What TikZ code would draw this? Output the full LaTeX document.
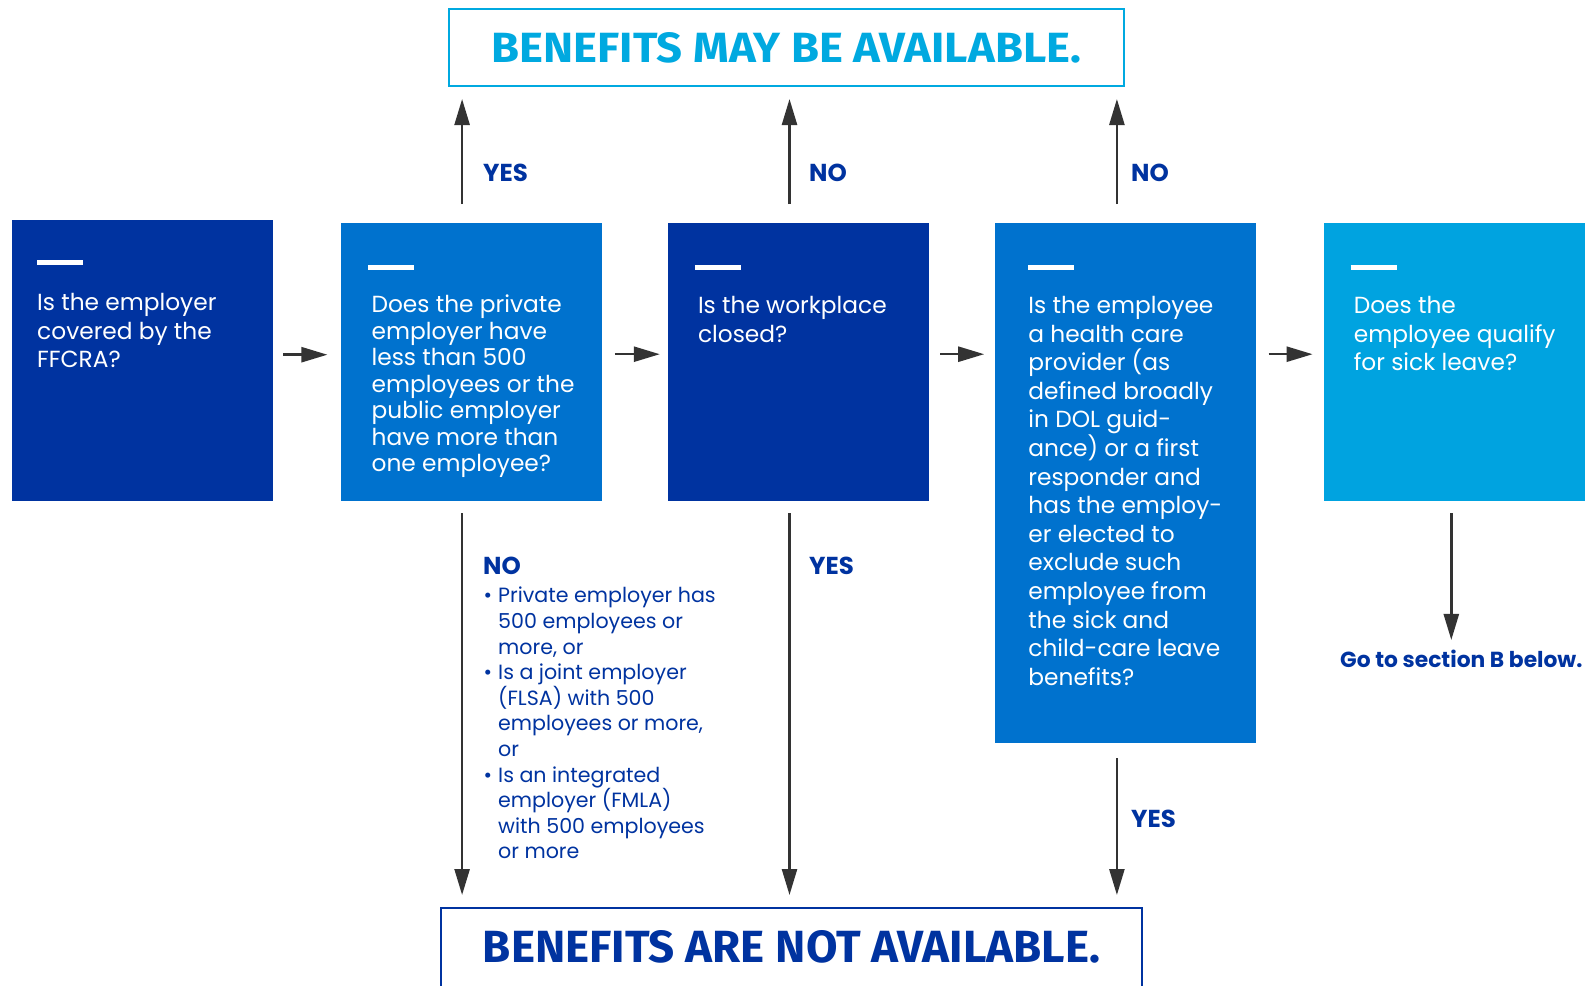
\documentclass[tikz,border=0pt]{standalone}
\usepackage{fontspec}
\usepackage{graphicx}
\setmainfont{Poppins}
\newfontfamily\headfont{Fira Sans}
\usetikzlibrary{arrows.meta,positioning}
\definecolor{navy}{HTML}{0033A0}
\definecolor{midblue}{HTML}{0072CE}
\definecolor{skyblue}{HTML}{00A3E0}
\definecolor{cyanline}{HTML}{00A9E0}
\definecolor{arrowgray}{HTML}{333333}

\begin{document}
\begin{tikzpicture}[x=1pt,y=-1pt]

  \tikzstyle{question}=[rectangle,minimum width=261pt,minimum height=278pt,
    inner sep=0pt,anchor=north west]
  \tikzstyle{qtext}=[anchor=north west,inner sep=0pt,align=left,text=white,
    font=\fontsize{23.3}{28.6}\selectfont]
  \tikzstyle{bar}=[white,line width=5pt]
  \tikzstyle{flow}=[-{Triangle[length=26pt,width=15pt]},line width=2.5pt,arrowgray]
  \tikzstyle{answer}=[text=navy,font=\bfseries\fontsize{24.5}{27}\selectfont,
    anchor=west,inner sep=0pt]
  \tikzstyle{result}=[rectangle,line width=2pt,inner sep=0pt,anchor=north west]

  \useasboundingbox[fill=white] (0,0) rectangle (1587,985);

  % outcome boxes
  \node(MAY)[result,draw=cyanline,minimum width=675pt,minimum height=77pt]
    at (448,8) {\resizebox{589pt}{30pt}{\headfont\bfseries\color{cyanline}BENEFITS MAY BE AVAILABLE.}};
  \node(NOT)[result,draw=navy,minimum width=701pt,minimum height=100pt]
    at (440,907) {};
  \node(NOTtext) at ([yshift=-40pt]NOT.north)
    {\resizebox{617pt}{32pt}{\headfont\bfseries\color{navy}BENEFITS ARE NOT AVAILABLE.}};

  % question boxes
  \node(COVERED)[question,fill=navy,minimum height=281pt] at (12,220) {};
  \node(SIZE)[question,fill=midblue,right=67pt of COVERED.north east,
    anchor=north west,yshift=-3pt] {};
  \node(CLOSED)[question,fill=navy,right=66pt of SIZE.north east,
    anchor=north west] {};
  \node(PROVIDER)[question,fill=midblue,minimum height=520pt,
    right=66pt of CLOSED.north east,anchor=north west] {};
  \node(SICK)[question,fill=skyblue,right=67pt of PROVIDER.north east,
    anchor=north west] {};

  \draw[bar] ([xshift=25pt,yshift=-42pt]COVERED.north west) -- ++(46,0);
  \draw[bar] ([xshift=28pt,yshift=-44pt]SIZE.north west) -- ++(46,0);
  \draw[bar] ([xshift=27pt,yshift=-44pt]CLOSED.north west) -- ++(46,0);
  \draw[bar] ([xshift=33pt,yshift=-44pt]PROVIDER.north west) -- ++(46,0);
  \draw[bar] ([xshift=27pt,yshift=-44pt]SICK.north west) -- ++(46,0);

  \node(COVEREDq)[qtext] at ([xshift=25pt,yshift=-73pt]COVERED.north west)
    {Is the employer\\covered by the\\FFCRA?};
  \node(SIZEq)[qtext,font=\fontsize{23.3}{26.5}\selectfont]
    at ([xshift=31pt,yshift=-72pt]SIZE.north west)
    {Does the private\\employer have\\less than 500\\employees or the\\public employer\\have more than\\one employee?};
  \node(CLOSEDq)[qtext] at ([xshift=30pt,yshift=-73pt]CLOSED.north west)
    {Is the workplace\\closed?};
  \node(PROVIDERq)[qtext] at ([xshift=33pt,yshift=-73pt]PROVIDER.north west)
    {Is the employee\\a health care\\provider (as\\defined broadly\\in DOL guid-\\ance) or a first\\responder and\\has the employ-\\er elected to\\exclude such\\employee from\\the sick and\\child-care leave\\benefits?};
  \node(SICKq)[qtext] at ([xshift=30pt,yshift=-73pt]SICK.north west)
    {Does the\\employee qualify\\for sick leave?};

  % answers
  \node(YES1)[answer] at (483,173) {YES};
  \node(NO1)[answer] at (809,173) {NO};
  \node(NO2)[answer] at (1131,173) {NO};
  \node(NO3)[answer] at (483,566) {NO};
  \node(YES2)[answer] at (809,566) {YES};
  \node(YES3)[answer] at (1131,819) {YES};
  \node(GOTO)[answer,font=\bfseries\fontsize{21.8}{24}\selectfont] at (1340,659)
    {Go to section B below.};
  \node(NOLIST)[anchor=north west,inner sep=0pt,align=left,text=navy,
    font=\fontsize{20.6}{25.6}\selectfont] at (498,587)
    {\llap{\textbullet\hspace{6pt}}Private employer has\\500 employees or\\more, or\\
     \llap{\textbullet\hspace{6pt}}Is a joint employer\\(FLSA) with 500\\employees or more,\\or\\
     \llap{\textbullet\hspace{6pt}}Is an integrated\\employer (FMLA)\\with 500 employees\\or more};

  % connectors
  \draw[flow,shorten <=10pt,shorten >=13pt]
    ([yshift=6pt]COVERED.east) -- ([yshift=6pt]COVERED.east -| SIZE.west);
  \draw[flow,shorten <=13pt,shorten >=8pt]
    ([yshift=8pt]SIZE.east) -- ([yshift=8pt]SIZE.east -| CLOSED.west);
  \draw[flow,shorten <=11pt,shorten >=11pt]
    ([yshift=8pt]CLOSED.east) -- ([yshift=8pt]CLOSED.east -| PROVIDER.west);
  \draw[flow,shorten <=12pt,shorten >=11pt]
    ([yshift=8pt]SICK.west -| PROVIDER.east) -- ([yshift=8pt]SICK.west);

  \foreach \q in {SIZE,CLOSED,PROVIDER}
    \draw[flow,shorten <=19pt,shorten >=12pt]
      ([xshift=-9pt]\q.north) -- ([xshift=-9pt]\q.north |- MAY.south);
  \draw[flow,shorten <=12pt,shorten >=12pt]
    ([xshift=-9pt]SIZE.south) -- ([xshift=-9pt]SIZE.south |- NOT.north);
  \draw[flow,shorten <=12pt,shorten >=12pt]
    ([xshift=-9pt]CLOSED.south) -- ([xshift=-9pt]CLOSED.south |- NOT.north);
  \draw[flow,shorten <=15pt,shorten >=12pt]
    ([xshift=-9pt]PROVIDER.south) -- ([xshift=-9pt]PROVIDER.south |- NOT.north);
  \draw[flow,shorten <=12pt,shorten >=10pt]
    ([xshift=-3pt]SICK.south) -- ([xshift=-3pt]SICK.south |- GOTO.north);

\end{tikzpicture}
\end{document}
